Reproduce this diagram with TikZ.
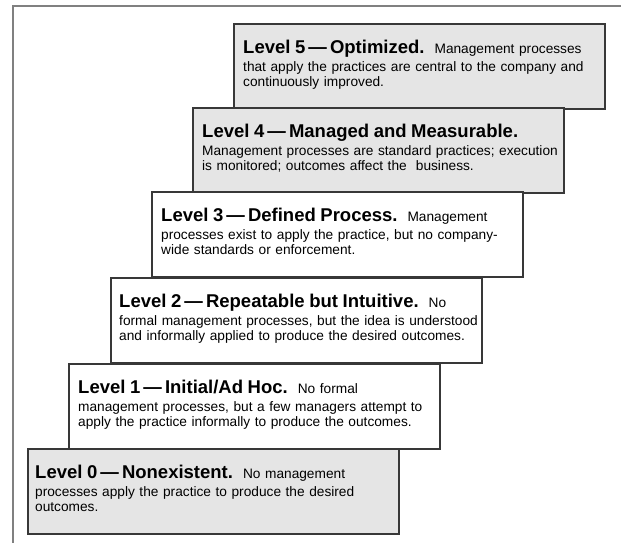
\documentclass[tikz,border=0pt]{standalone}
\usepackage{fontspec}
\setmainfont{Liberation Sans}
\usetikzlibrary{positioning}

\newcommand{\lvlhead}[1]{{\fontsize{18.5}{18.5}\selectfont\bfseries #1}\hspace{10pt}}

\begin{document}
\begin{tikzpicture}[x=1pt,y=-1pt,
    levelbox/.style={draw=black!78, line width=1.7pt, anchor=north west, inner sep=0pt,
                     minimum width=371pt, minimum height=85pt},
    greybox/.style={levelbox, fill=black!10},
    whitebox/.style={levelbox, fill=white},
    lvltext/.style={inner sep=0pt, text width=362pt, align=left,
                    font=\fontsize{13.7}{15}\selectfont}]
    \useasboundingbox (0,0) rectangle (621,543);
    % frame of the page
    \draw[black!50, line width=1.4pt] (621,6) -- (13,6) -- (13,543);
    % the six steps
    \node[greybox]  (lvl5) at (233,23)  {};
    \node[greybox]  (lvl4) at (192,107) {};
    \node[whitebox] (lvl3) at (151,191) {};
    \node[whitebox] (lvl2) at (110,277) {};
    \node[whitebox] (lvl1) at (68,363)  {};
    \node[greybox]  (lvl0) at (27,448)  {};
    % texts
    \node[lvltext, below right=17pt and 10pt of lvl5.north west] (txt5)
        {\lvlhead{Level 5\,—\,Optimized.}Management processes\\[3pt]
         that apply the practices are central to the company and\\
         continuously improved.};
    \node[lvltext, below right=17pt and 10pt of lvl4.north west] (txt4)
        {\lvlhead{Level 4\,—\,Managed and Measurable.}\\[3pt]
         Management processes are standard practices; execution\\
         is monitored; outcomes affect the\ \ business.};
    \node[lvltext, below right=17pt and 10pt of lvl3.north west] (txt3)
        {\lvlhead{Level 3\,—\,Defined Process.}Management\\[3pt]
         processes exist to apply the practice, but no company-\\
         wide standards or enforcement.};
    \node[lvltext, below right=17pt and 9pt of lvl2.north west] (txt2)
        {\lvlhead{Level 2\,—\,Repeatable but Intuitive.}No\\[3pt]
         formal management processes, but the idea is understood\\
         and informally applied to produce the desired outcomes.};
    \node[lvltext, below right=17pt and 10pt of lvl1.north west] (txt1)
        {\lvlhead{Level 1\,—\,Initial/Ad Hoc.}No formal\\[3pt]
         management processes, but a few managers attempt to\\
         apply the practice informally to produce the outcomes.};
    \node[lvltext, below right=17pt and 8pt of lvl0.north west] (txt0)
        {\lvlhead{Level 0\,—\,Nonexistent.}No management\\[3pt]
         processes apply the practice to produce the desired\\
         outcomes.};
\end{tikzpicture}
\end{document}
